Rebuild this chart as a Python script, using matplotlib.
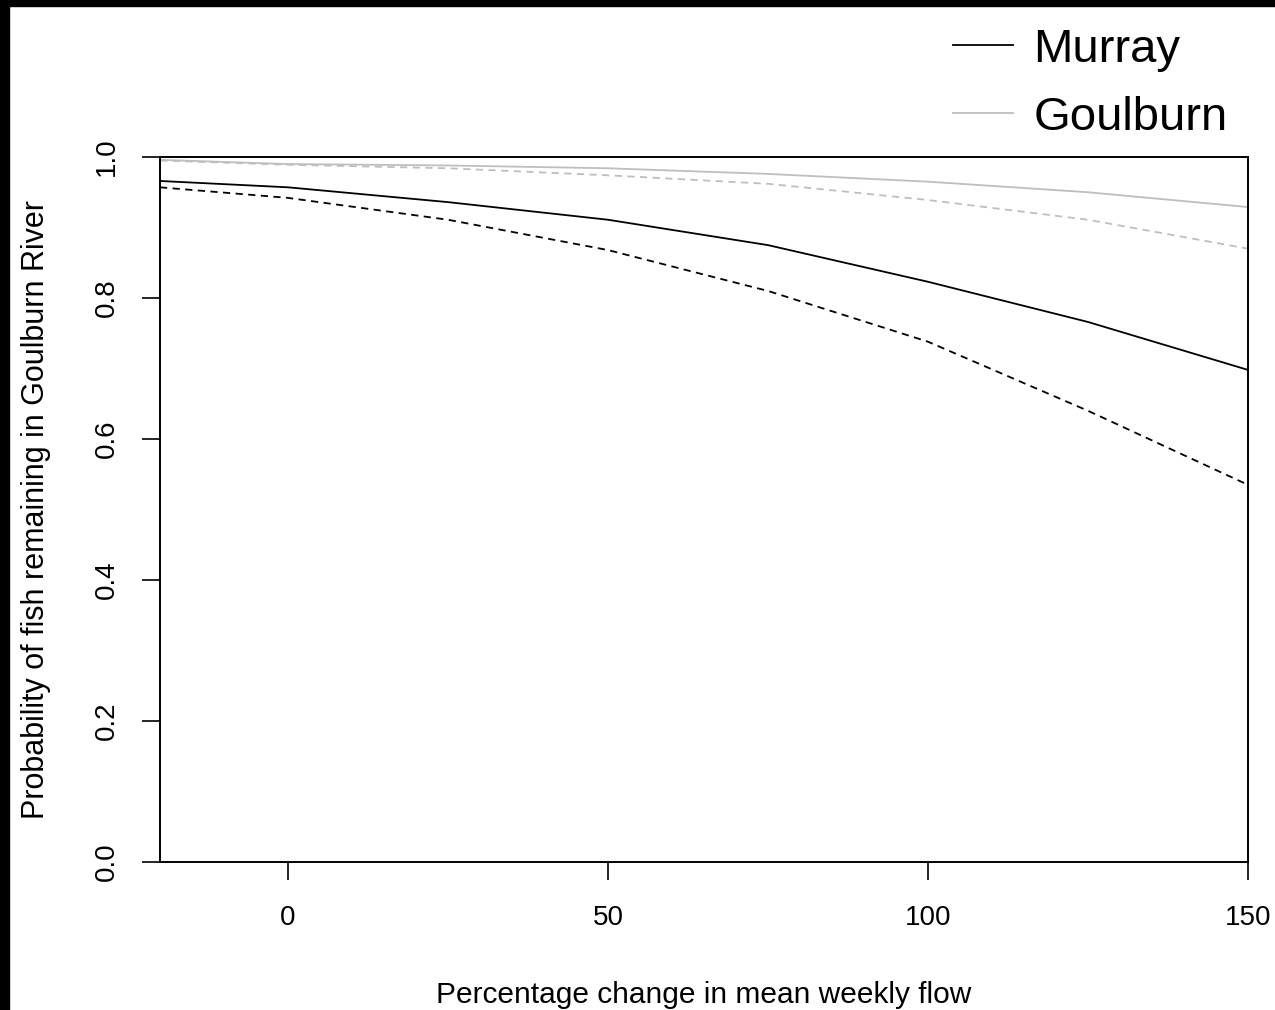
import matplotlib.pyplot as plt
from matplotlib.patches import Rectangle

plt.rcParams['font.family'] = ['Liberation Sans', 'DejaVu Sans']

# values
flow = [-20, 0, 25, 50, 75, 100, 125, 150]
murray_fit = [0.966, 0.957, 0.936, 0.911, 0.875, 0.823, 0.766, 0.698]
murray_low = [0.957, 0.942, 0.911, 0.868, 0.810, 0.738, 0.640, 0.535]
goulburn_fit = [0.996, 0.990, 0.988, 0.984, 0.976, 0.965, 0.950, 0.929]
goulburn_low = [0.995, 0.989, 0.984, 0.974, 0.962, 0.939, 0.911, 0.870]
xticks = [0, 50, 100, 150]
yticks = [0.0, 0.2, 0.4, 0.6, 0.8, 1.0]

W, H = 1275, 1010
fig = plt.figure(figsize=(W / 100, H / 100), dpi=100)
ax = fig.add_axes([160 / W, 1 - 862 / H, (1248 - 160) / W, (862 - 157) / H])

grey = '#bebebe'
lw = 1.3
ax.plot(flow, murray_fit, color='black', lw=lw, label='Murray')
ax.plot(flow, goulburn_fit, color=grey, lw=lw, label='Goulburn')
ax.plot(flow, murray_low, color='black', lw=lw, dashes=(4, 3))
ax.plot(flow, goulburn_low, color=grey, lw=lw, dashes=(4, 3))

ax.set_xlim(-20, 150)
ax.set_ylim(0, 1)
ax.set_xticks(xticks)
ax.set_yticks(yticks)
ax.set_yticklabels(['%.1f' % v for v in yticks], rotation=90, va='center')
ax.tick_params(axis='both', length=13, width=1.2, labelsize=20, direction='out')
ax.tick_params(axis='x', pad=18)
ax.tick_params(axis='y', pad=16)
for s in ax.spines.values():
    s.set_linewidth(1.4)

ax.set_xlabel('Percentage change in mean weekly flow', fontsize=21.5, labelpad=36)
ax.set_ylabel('Probability of fish remaining in Goulburn River', fontsize=22, labelpad=31)

ax.legend(loc='upper left', bbox_to_anchor=(953 / W, 1 - 28 / H), bbox_transform=fig.transFigure,
          frameon=False, fontsize=34, handlelength=1.28, handletextpad=0.42,
          labelspacing=0.5, borderpad=0, borderaxespad=0)

# black strips along top and left edges of the screenshot
fig.patches.append(Rectangle((0, 1 - 6 / H), 1, 6 / H, transform=fig.transFigure, color='black', zorder=10))
fig.patches.append(Rectangle((0, 0), 9 / W, 1, transform=fig.transFigure, color='black', zorder=10))

fig.savefig('out.png', dpi=100)
